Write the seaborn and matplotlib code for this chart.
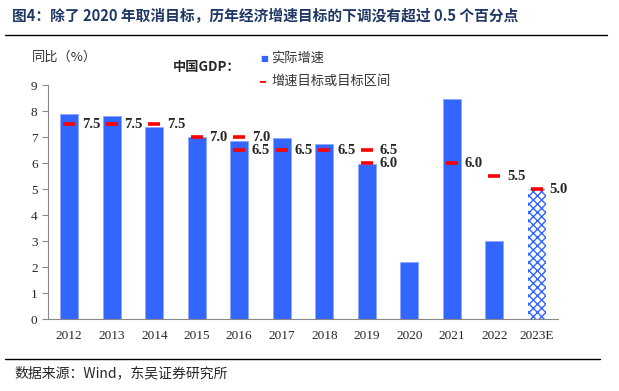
import seaborn as sns
import matplotlib.pyplot as plt
import pandas as pd

years = ['2012', '2013', '2014', '2015', '2016', '2017', '2018', '2019',
         '2020', '2021', '2022', '2023E']
actual = [7.9, 7.8, 7.4, 7.0, 6.85, 6.95, 6.75, 5.95, 2.2, 8.45, 3.0, 5.0]
# targets: (year, value), some years have a range
target_years = ['2012', '2013', '2014', '2015', '2016', '2016', '2017', '2018',
                '2019', '2019', '2021', '2022', '2023E']
target_vals = [7.5, 7.5, 7.5, 7.0, 7.0, 6.5, 6.5, 6.5, 6.5, 6.0, 6.0, 5.5, 5.0]

sns.set_style('white')
plt.rcParams['font.family'] = ['Liberation Serif', 'Noto Sans CJK SC']
cjk = ['Noto Sans CJK SC']

blue = '#3366FF'
df = pd.DataFrame({'year': years, 'gdp': actual})

fig = plt.figure(figsize=(6.19, 3.91), dpi=100)
ax = fig.add_axes([48 / 619, 1 - 319 / 391, 510 / 619, 234 / 391])

sns.barplot(data=df, x='year', y='gdp', color=blue, width=0.43,
            saturation=1, ax=ax, edgecolor='#8FA8FF', linewidth=0.6)
last = ax.patches[-1]
last.set_facecolor('white')
last.set_edgecolor(blue)
last.set_hatch('xxxx')
last.set_linewidth(0)

pos = {y: i for i, y in enumerate(years)}
tx = [pos[y] for y in target_years]
ax.plot(tx, target_vals, ls='none', marker='_', ms=9, mew=2.6, color='#FF0000')
for x, v in zip(tx, target_vals):
    ax.text(x + 0.3, v, f'{v:.1f}', fontsize=10.5, fontweight='bold',
            va='center', ha='left')

ax.set_xlim(-0.5, len(years) - 0.5)
ax.set_ylim(0, 9)
ax.set_yticks(range(10))
ax.set_xlabel('')
ax.set_ylabel('')
for s in ['top', 'right']:
    ax.spines[s].set_visible(False)
for s in ['left', 'bottom']:
    ax.spines[s].set_color('#888888')
    ax.spines[s].set_linewidth(0.8)
ax.set_xticks([i - 0.5 for i in range(len(years) + 1)], minor=False)
ax.set_xticklabels([])
ax.set_xticks(range(len(years)), minor=True)
ax.set_xticklabels(years, minor=True)
ax.tick_params(axis='x', which='major', length=4, direction='out', color='#888888')
ax.tick_params(axis='x', which='minor', length=0, labelsize=9.5, pad=8)
ax.tick_params(axis='y', length=4, direction='out', color='#888888', labelsize=9.5,
               left=True)

fig.text(12 / 619, 1 - 16 / 391, '图4：除了 2020 年取消目标，历年经济增速目标的下调没有超过 0.5 个百分点',
         family=cjk, fontsize=10.6, fontweight='bold', color='#1F3864', va='center')
fig.add_artist(plt.Line2D([5 / 619, 607 / 619], [1 - 35 / 391] * 2, color='black', lw=1))
fig.add_artist(plt.Line2D([5 / 619, 600 / 619], [1 - 359 / 391] * 2, color='black', lw=1))
fig.text(14 / 619, 1 - 373 / 391, '数据来源：Wind，东吴证券研究所', family=cjk,
         fontsize=10, va='center')
fig.text(32 / 619, 1 - 57 / 391, '同比（%）', family=cjk, fontsize=9.5, va='center', color='#333333')
fig.text(173 / 619, 1 - 67 / 391, '中国GDP：', family=cjk, fontsize=9.5, fontweight='bold', va='center')
fig.text(260 / 619, 1 - 58 / 391, '■', color=blue, fontsize=6, va='center', family=['DejaVu Sans'])
fig.text(271 / 619, 1 - 58 / 391, '实际增速', family=cjk, fontsize=9.5, va='center', color='#333333')
fig.text(259 / 619, 1 - 81 / 391, '━', color='#FF0000', fontsize=7, va='center', family=['DejaVu Sans'])
fig.text(271 / 619, 1 - 81 / 391, '增速目标或目标区间', family=cjk, fontsize=9.5, va='center', color='#333333')

fig.savefig('out.png', dpi=100)
